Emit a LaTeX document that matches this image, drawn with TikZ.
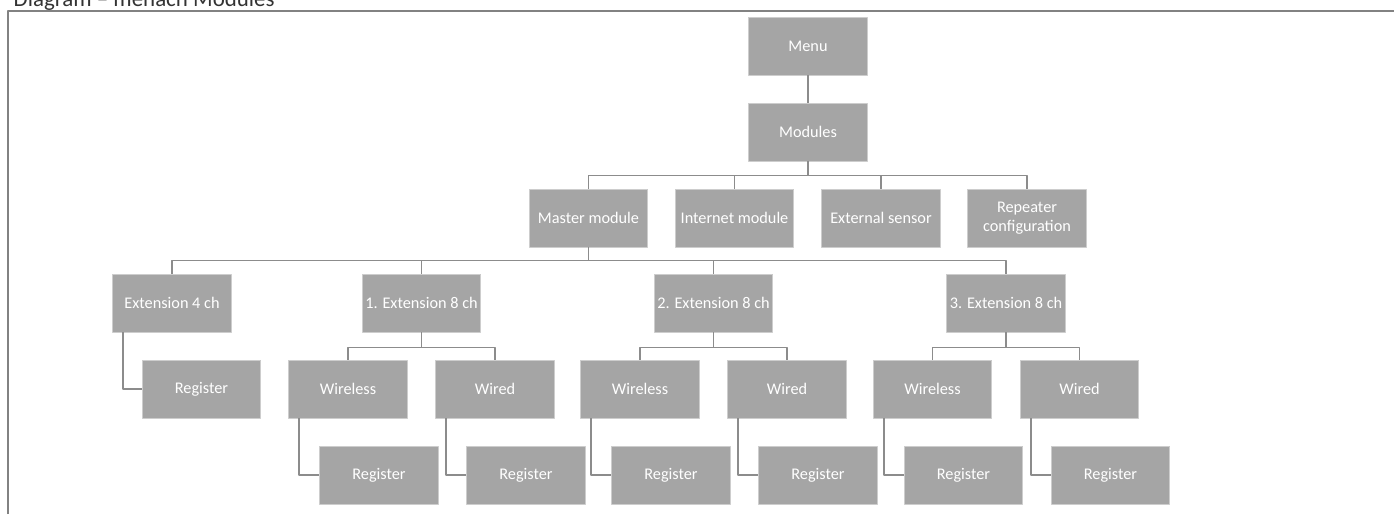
\documentclass[tikz,border=0pt]{standalone}
\usepackage{fontspec}
\setmainfont{Carlito}
\definecolor{boxfill}{RGB}{165,165,165}
\definecolor{boxedge}{RGB}{205,205,205}
\definecolor{linkgray}{RGB}{140,140,140}
\definecolor{framegray}{RGB}{130,130,130}
\tikzset{
  box/.style={draw=boxedge, line width=0.6pt, fill=boxfill, text=white, minimum width=89pt, minimum height=43.5pt, inner sep=1pt, align=center, font=\fontsize{12.2}{14.2}\selectfont},
  link/.style={draw=linkgray, line width=1.2pt},
  frame/.style={draw=framegray, line width=1.2pt}
}
\begin{document}
\begin{tikzpicture}[x=0.75pt,y=-0.75pt, line join=round]
	\useasboundingbox (0,0) rectangle (1394,514);
	\node[anchor=base west, font=\fontsize{17.2}{20}\selectfont, text=black!80] (title) at (9,6.5) {Diagram – menach Modules};
	\draw[frame] (8,514)--(8,11)--(1394,11);
	% top levels
	\node[box] (menu) at (808,46) {Menu};
	\node[box] (modules) at (808,132) {Modules};
	\node[box] (master) at (588.5,218) {Master module};
	\node[box] (internet) at (734.5,218) {Internet module};
	\node[box] (external) at (881,218) {External sensor};
	\node[box] (repeater) at (1027,218) {Repeater\\configuration};
	% extensions
	\node[box] (ext4) at (172,303) {Extension 4 ch};
	\node[box] (reg4) at (201.5,389) {Register};
	\foreach \e/\cx in {1/421.5,2/713.5,3/1006}{
		\node[box] (ext\e) at (\cx,303) {\e. Extension 8 ch};
		\node[box] (wl\e) at (\cx-73.5,389) {Wireless};
		\node[box] (wd\e) at (\cx+73.5,389) {Wired};
		\node[box] (rwl\e) at (\cx-42.5,475) {Register};
		\node[box] (rwd\e) at (\cx+104.5,475) {Register};
	}
	% connectors
	\draw[link] (menu) -- (modules);
	\foreach \c in {master,internet,external,repeater}
		\draw[link] (modules.south) -- ++(0,14) -| (\c.north);
	\foreach \c in {ext4,ext1,ext2,ext3}
		\draw[link] (master.south) -- ++(0,13) -| (\c.north);
	\foreach \e in {1,2,3}{
		\draw[link] (ext\e.south) -- ++(0,15) -| (wl\e.north);
		\draw[link] (ext\e.south) -- ++(0,15) -| (wd\e.north);
		\draw[link] (wl\e.south west) ++(11,0) |- (rwl\e.west);
		\draw[link] (wd\e.south west) ++(11,0) |- (rwd\e.west);
	}
	\draw[link] (ext4.south west) ++(11,0) |- (reg4.west);
\end{tikzpicture}
\end{document}
